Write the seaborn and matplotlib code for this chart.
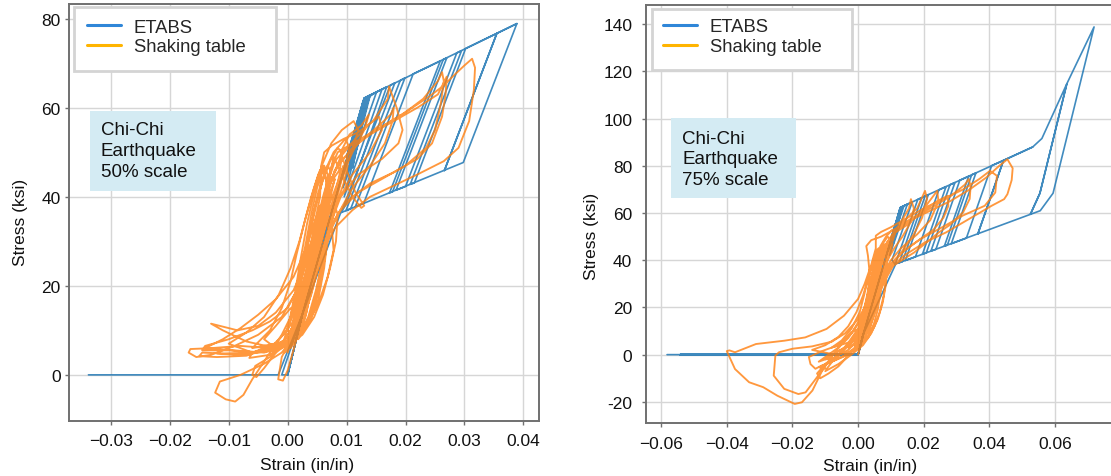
import matplotlib
matplotlib.use("Agg")
import matplotlib.pyplot as plt
import seaborn as sns
from matplotlib.lines import Line2D
from matplotlib.patches import Rectangle

# ---------------- data (strain in/in, stress ksi) ----------------
# Chi-Chi 50% scale, ETABS model (piecewise path)
etabs_50_strain = [-0.0338, -0.0016, 0.0025, 0.0000, 0.0025, -0.0010, 0.0000, 0.0025, 0.0130, 0.0100,
                   0.0131, 0.0103, 0.0133, 0.0106, 0.0136, 0.0110, 0.0138, 0.0140,
                   0.0092, 0.0128, 0.0151, 0.0094, 0.0135, 0.0160, 0.0096, 0.0140, 0.0168, 0.0100,
                   0.0091, 0.0174, 0.0182, 0.0099, 0.0107, 0.0191, 0.0199, 0.0115, 0.0129, 0.0213,
                   0.0259, 0.0173, 0.0178, 0.0264, 0.0270, 0.0184, 0.0200, 0.0287, 0.0295, 0.0208,
                   0.0215, 0.0302, 0.0355, 0.0266, 0.0355, 0.0389, 0.0298, 0.0090, 0.0025, 0.0000,
                   0.0025, 0.0130, 0.0389]
etabs_50_stress = [0, 0, 13.6, 0, 13.6, 0, 0, 13.6, 62.2, 49.0,
                   62.2, 48.0, 62.4, 47.0, 62.6, 46.5, 62.7, 62.8,
                   44.0, 61.5, 63.6, 42.0, 62.5, 64.1, 40.0, 62.8, 64.7, 38.5,
                   36.5, 65.0, 65.6, 36.9, 37.3, 66.1, 66.7, 37.8, 38.5, 67.6,
                   70.5, 40.9, 41.1, 70.8, 71.2, 41.5, 42.3, 72.3, 72.8, 42.8,
                   43.1, 73.3, 76.7, 45.9, 76.7, 78.9, 47.7, 36.4, 13.6, 0,
                   13.6, 62.2, 78.9]

# Chi-Chi 50% scale, shaking table record
table_50_strain = [
    0.000, 0.002, 0.004, 0.006, 0.0075, 0.008, 0.0065, 0.0045, 0.0025, 0.0005, -0.003, -0.0065, -0.006, -0.002, 0.001,
    0.003, 0.005, 0.007, 0.009, 0.0095, 0.0085, 0.006, 0.004, 0.002, -0.001, -0.006, -0.011, -0.0145, -0.015, -0.012,
    -0.007, -0.003, 0.000,
    0.002, 0.004, 0.006, 0.0075, 0.009, 0.0115, 0.014, 0.0155, 0.016, 0.014, 0.011, 0.0085, 0.0065, 0.005, 0.003,
    0.001, -0.003, -0.008, -0.013, -0.0165, -0.0168, -0.0155, -0.013, -0.009, -0.005, -0.001,
    0.002, 0.004, 0.0055, 0.0057, 0.0062, 0.0075, 0.0095, 0.012, 0.0145, 0.017, 0.0172, 0.0185, 0.0195, 0.0188,
    0.016, 0.012, 0.009, 0.007, 0.0055, 0.004, 0.002, -0.001, -0.004, -0.008, -0.0115, -0.0123, -0.0105, -0.0089,
    -0.0075, -0.006, -0.004, -0.001,
    0.002, 0.0035, 0.005, 0.0065, 0.008, 0.011, 0.015, 0.020, 0.024, 0.0265, 0.028, 0.030, 0.0313, 0.0318, 0.0316,
    0.0308, 0.029, 0.0265, 0.022, 0.018, 0.014, 0.011, 0.008, 0.006, 0.0045, 0.003, 0.0015, -0.002, -0.007, -0.011,
    -0.013, -0.0115, -0.0085, -0.005, -0.002, 0.001,
    0.003, 0.0045, 0.006, 0.0075, 0.0085, 0.011, 0.015, 0.019, 0.023, 0.0255, 0.0262, 0.0265, 0.026, 0.025, 0.0235,
    0.020, 0.016, 0.012, 0.009, 0.007, 0.0055, 0.004, 0.0025, 0.000, -0.003, -0.0055, -0.006, -0.0053, -0.004,
    -0.002, 0.001,
    0.003, 0.005, 0.0065, 0.008, 0.010, 0.014, 0.018, 0.022, 0.0255, 0.027, 0.0268, 0.0262, 0.0245, 0.022, 0.018,
    0.014, 0.010, 0.008, 0.006, 0.0045, 0.003, 0.001, -0.001, -0.0016, -0.0008, 0.000, 0.0015,
    0.003, 0.0045, 0.006, 0.007, 0.009, 0.012, 0.0155, 0.0175, 0.018, 0.0178, 0.0165, 0.014, 0.011, 0.0085, 0.0065,
    0.005, 0.0035, 0.002, -0.001, -0.005, -0.010, -0.0145, -0.014, -0.010, -0.006, -0.003, 0.000,
    0.002, 0.004, 0.006, 0.0072, 0.0078, 0.0085, 0.0095, 0.011, 0.0125, 0.013, 0.0115, 0.010, 0.009, 0.0105, 0.0125,
    0.0138, 0.013, 0.011, 0.009, 0.007, 0.0055, 0.004, 0.0025, 0.001, -0.002, -0.004, -0.002, 0.0005,
    0.002, 0.006, 0.0025, 0.0065, 0.003, 0.0055, 0.002, 0.007, 0.0035, 0.005, 0.0015, 0.006, 0.004, 0.007, 0.003,
    0.0065, 0.0045, 0.0072, 0.004, 0.006, 0.003, 0.005, 0.002, 0.004, 0.001, 0.0035,
    0.0, 0.001, 0.002, 0.003, 0.004, 0.005, 0.006, 0.0068, 0.0072, 0.0070, 0.0062, 0.0052, 0.0042, 0.0032, 0.002, 0.0005,
    0.0005, 0.0015, 0.0025, 0.0035, 0.0045, 0.0058, 0.0072, 0.0085, 0.0092, 0.0088, 0.0078, 0.0068, 0.0058, 0.0048,
    0.0035, 0.0018,
    0.001, 0.002, 0.003, 0.0042, 0.0052, 0.0064, 0.0078, 0.0098, 0.0105, 0.0096, 0.0082, 0.0072, 0.0064, 0.0055,
    0.0042, 0.0028, 0.001,
    0.0, 0.0012, 0.0022, 0.0033, 0.0045, 0.0058, 0.0074, 0.0092, 0.0112, 0.012, 0.0108, 0.0092, 0.0078, 0.0068,
    0.0058, 0.0046, 0.003, 0.001,
    -0.001, 0.0005, 0.0018, 0.003, 0.004, 0.005, 0.0062, 0.0068, 0.0065, 0.0058, 0.005, 0.004, 0.003, 0.0015, -0.0005,
    0.0015, 0.0025, 0.0038, 0.0048, 0.0058, 0.0072, 0.0088, 0.0102, 0.0095, 0.0082, 0.0070, 0.0058, 0.0048, 0.0035,
    0.0015,
    -0.006, -0.003, -0.001, 0.0005, 0.0015, 0.0028, 0.004, 0.0052, 0.006, 0.0065, 0.0068, 0.0068, 0.0062, 0.0052,
    0.0038, 0.0015, -0.002, -0.006,
    -0.010, -0.007, -0.004, -0.0015, 0.0005, 0.002, 0.0032, 0.0045, 0.0055, 0.0062, 0.0075, 0.0085, 0.0082, 0.0072,
    0.006, 0.0045, 0.0025, 0.0, -0.004, -0.009,
    -0.014, -0.011, -0.008, -0.005, -0.002, 0.001, 0.003, 0.0045, 0.0055, 0.0065, 0.0075, 0.0078, 0.0068, 0.0052,
    0.0032, 0.001, -0.003, -0.008, -0.012]
table_50_stress = [
    5, 14, 26, 35, 42, 44, 36, 27, 16, 8, 4.5, 3.8, 5, 7, 12,
    20, 30, 38, 45, 47, 42, 33, 24, 13, 7, 5, 4.8, 5.0, 4.2, 4.0,
    4.3, 6, 10,
    18, 27, 36, 44, 49, 53, 56.5, 58, 55, 50, 45, 39, 31, 24, 15,
    9, 6, 6.5, 6, 5.8, 5.0, 4.0, 4.5, 6.5, 9, 13,
    20, 30, 40, 47, 50, 51.5, 53, 54.5, 57, 62, 64.8, 60, 55, 52,
    48.5, 45, 40, 33, 26, 18, 10, 5, 2.5, 0, -1.5, -4, -5.5, -6,
    -4.5, -1, 3, 9,
    17, 24, 32, 40, 46, 51, 55, 59, 62.5, 65, 67, 69.5, 71, 69, 64,
    57, 51, 48, 45, 42.5, 40, 37, 33, 28, 21, 14, 9, 6, 7.5, 10,
    11.5, 11, 10, 11, 14, 19,
    25, 32, 40, 47, 50, 52, 55, 58, 62, 66, 68, 66, 61, 55, 51,
    47, 44, 41, 37, 32, 26, 19, 12, 7, 4, 2, 0, -0.5, 1.5,
    5, 11,
    22, 33, 42, 48, 51, 54, 57, 60, 63, 67, 63, 58, 52, 48.5, 45.5,
    43, 39, 35, 29, 22, 15, 9, 4, -1, -1.3, 1, 8,
    19, 28, 37, 43, 48, 52, 56, 58.5, 60, 57, 52, 47, 42, 36, 30,
    23, 16, 10, 6, 5, 5.5, 5.5, 6.5, 8, 10, 12, 15,
    20, 29, 38, 45, 49, 47, 44, 40, 37.5, 38, 41, 46, 50, 54, 56,
    58.5, 55, 50, 44, 36, 29, 21, 14, 8, 6, 8, 11, 15,
    12, 38, 15, 40, 17, 35, 11, 42, 19, 30, 10, 36, 20, 39, 14,
    34, 24, 38, 22, 31, 18, 27, 16, 26, 9, 22,
    6, 12, 19, 26, 33, 39, 44, 47, 46, 41, 35, 28, 21, 14, 9, 6,
    9, 16, 23, 30, 37, 43, 48, 51, 50, 45, 39, 32, 25, 18,
    12, 8,
    14, 21, 28, 35, 41, 46, 50, 53, 51, 46, 40, 34, 27, 20,
    14, 10, 8,
    10, 18, 26, 34, 41, 47, 52, 55, 57, 55, 50, 44, 37, 30,
    23, 16, 11, 8,
    6, 13, 21, 29, 36, 42, 47, 45, 39, 32, 26, 19, 13, 8, 5,
    14, 20, 27, 33, 38, 43, 46, 47, 43, 38, 32, 25, 19, 13,
    8,
    6, 10, 15, 21, 27, 34, 40, 45, 47, 44, 38, 31, 24, 17,
    12, 8, 5.5, 5,
    7, 9.5, 13, 18, 24, 30, 36, 42, 46, 45, 40, 36, 30, 24,
    18, 13, 9, 6.5, 5, 5.5,
    6, 8, 10.5, 13.5, 17, 22, 28, 34, 38, 37, 33, 28, 22, 16,
    11, 7.5, 5.5, 4.5, 4.8]

# Chi-Chi 75% scale, ETABS model
etabs_75_strain = [-0.0582, 0.0000, 0.0016, 0.0000, -0.0542, 0.0000, 0.0016, 0.0000, -0.0542, 0.0000,
                   0.0016, 0.0129, 0.0100, 0.0130, 0.0103, 0.0132, 0.0107, 0.0135,
                   0.0140, 0.0092, 0.0128, 0.0150, 0.0096, 0.0135, 0.0165, 0.0103, 0.0113, 0.0182,
                   0.0194, 0.0125, 0.0135, 0.0204, 0.0214, 0.0144, 0.0175, 0.0246, 0.0268, 0.0196,
                   0.0208, 0.0280, 0.0295, 0.0222, 0.0237, 0.0310, 0.0337, 0.0263, 0.0272, 0.0346,
                   0.0359, 0.0284, 0.0330, 0.0407, 0.0443, 0.0365, 0.0443, 0.0532, 0.0560, 0.0636,
                   0.0554, 0.0525, 0.0554, 0.0636, 0.0719, 0.0594, 0.0555, 0.0164, 0.0115, 0.0016,
                   0.0000, 0.0016, 0.0129, 0.0532]
etabs_75_stress = [0, 0, 8.7, 0, 0, 0, 8.7, 0, 0, 0,
                   8.7, 62.4, 49.0, 62.4, 48.0, 62.5, 47.0, 62.7,
                   63.1, 44.0, 62.2, 63.7, 42.0, 62.8, 64.7, 40.0, 38.3, 65.8,
                   66.5, 38.9, 39.4, 67.2, 67.8, 39.9, 41.5, 69.8, 71.2, 42.5,
                   43.2, 72.0, 72.9, 43.9, 44.6, 73.9, 75.6, 46.0, 46.4, 76.2,
                   77.0, 47.0, 49.4, 80.1, 82.3, 51.2, 82.3, 88.0, 91.6, 114.8,
                   68.4, 59.5, 68.4, 114.8, 138.9, 68.4, 61.0, 40.9, 38.5, 8.7,
                   0, 8.7, 62.4, 88.0]

# Chi-Chi 75% scale, shaking table record
table_75_strain = [
    0.000, 0.002, 0.004, 0.006, 0.0075, 0.008, 0.0065, 0.0045, 0.0025, 0.000, -0.003, -0.007, -0.010, -0.0118,
    -0.0096, -0.008, -0.005, -0.002, 0.001,
    0.003, 0.005, 0.007, 0.009, 0.0118, 0.015, 0.018, 0.0204, 0.021, 0.0195, 0.017, 0.014, 0.011, 0.008, 0.006,
    0.004, 0.002, -0.001, -0.005, -0.0096, -0.0129, -0.016, -0.0182, -0.0225, -0.0257, -0.0252, -0.0241, -0.020,
    -0.014, -0.008, -0.004, 0.000,
    0.002, 0.004, 0.0054, 0.0075, 0.0096, 0.0118, 0.016, 0.022, 0.028, 0.034, 0.039, 0.043, 0.0455, 0.0471, 0.0468,
    0.0455, 0.0445, 0.0407, 0.0354, 0.0268, 0.0204, 0.0139, 0.0086, 0.006, 0.004, 0.002, -0.0021, -0.0054, -0.0086,
    -0.0112, -0.0139, -0.0171, -0.0193, -0.0246, -0.0289, -0.0332, -0.0375, -0.0400, -0.0392, -0.0375, -0.0311,
    -0.0225, -0.0161, -0.0096, -0.0043, 0.000,
    0.002, 0.004, 0.0054, 0.0054, 0.007, 0.010, 0.015, 0.020, 0.026, 0.032, 0.037, 0.0402, 0.0423, 0.0418, 0.0386,
    0.032, 0.025, 0.019, 0.014, 0.010, 0.0075, 0.0055, 0.0035, 0.001, -0.003, -0.008, -0.0112, -0.013, -0.0145,
    -0.015, -0.011, -0.006, -0.002, 0.001,
    0.003, 0.0035, 0.003, 0.0025, 0.004, 0.007, 0.011, 0.016, 0.022, 0.028, 0.0325, 0.0337, 0.0343, 0.034, 0.032,
    0.028, 0.0246, 0.0171, 0.0107, 0.008, 0.006, 0.004, 0.002, -0.001, -0.004, -0.006, -0.009, -0.0115, -0.0125,
    -0.010, -0.006, -0.003, 0.000,
    0.003, 0.005, 0.007, 0.009, 0.012, 0.016, 0.020, 0.024, 0.0273, 0.0275, 0.026, 0.023, 0.018, 0.013, 0.009,
    0.007, 0.005, 0.003, 0.000, -0.004, -0.008, -0.010, -0.007, -0.003, 0.000,
    0.002, 0.004, 0.006, 0.008, 0.011, 0.015, 0.019, 0.0241, 0.0245, 0.022, 0.018, 0.013, 0.010, 0.0075, 0.0055,
    0.004, 0.0025, 0.0005, -0.003, -0.001, 0.002,
    0.004, 0.006, 0.008, 0.010, 0.013, 0.0155, 0.0161, 0.017, 0.016, 0.0135, 0.011, 0.008, 0.006, 0.004, 0.002,
    0.000,
    0.002, 0.006, 0.0025, 0.0065, 0.003, 0.0055, 0.002, 0.007, 0.0035, 0.005, 0.0015, 0.006, 0.004, 0.0075, 0.003,
    0.0065, 0.0045, 0.0078, 0.004, 0.006, 0.003, 0.005, 0.001, 0.004, 0.000, 0.0035, -0.001,
    0.0, 0.001, 0.002, 0.003, 0.004, 0.005, 0.006, 0.007, 0.0075, 0.007, 0.0062, 0.0052, 0.0042, 0.003, 0.0015, 0.0,
    0.0005, 0.0015, 0.0025, 0.0035, 0.0047, 0.006, 0.0075, 0.009, 0.0098, 0.009, 0.008, 0.007, 0.006, 0.0048,
    0.0035, 0.0015,
    0.001, 0.002, 0.003, 0.0043, 0.0055, 0.0068, 0.0085, 0.0105, 0.0112, 0.010, 0.0085, 0.0074, 0.0064, 0.0054,
    0.004, 0.0025, 0.0005,
    -0.001, 0.0005, 0.0018, 0.003, 0.0042, 0.0052, 0.0064, 0.0072, 0.0068, 0.006, 0.0052, 0.0042, 0.003, 0.0012,
    -0.0005,
    0.0015, 0.0028, 0.004, 0.005, 0.006, 0.0075, 0.009, 0.0105, 0.0098, 0.0085, 0.0072, 0.006, 0.005, 0.0036, 0.0015,
    -0.008, -0.005, -0.002, 0.0005, 0.0018, 0.003, 0.0042, 0.0055, 0.0062, 0.0068, 0.0072, 0.0068, 0.006, 0.0048,
    0.003, 0.0005, -0.003, -0.007,
    -0.014, -0.010, -0.006, -0.003, -0.0005, 0.0015, 0.003, 0.0045, 0.0058, 0.007, 0.008, 0.0085, 0.0078, 0.0066,
    0.005, 0.003, 0.0, -0.005, -0.010,
    -0.012, -0.009, -0.006, -0.003, 0.0, 0.002, 0.0035, 0.005, 0.0062, 0.0075, 0.0082, 0.0088, 0.0085, 0.0075,
    0.006, 0.004, 0.0015, -0.002, -0.006, -0.010]
table_75_stress = [
    0, 10, 20, 32, 40, 43, 35, 24, 14, 6, 2, -1, -4, -5.4,
    -6.1, -3.2, 1, 5, 10,
    18, 28, 38, 46, 53, 58, 62, 69.4, 66, 58, 51, 45, 39, 32, 24,
    16, 8, 2, -1, -4, -10.3, -16, -16.7, -14.5, -8.9, -0.4, 1.0, 2.5,
    3.5, 5.5, 9, 15,
    20, 28, 35, 43.3, 49, 53.2, 57, 61, 65, 70, 75, 80, 82.8, 79, 74,
    68, 65.9, 63.1, 58.8, 51.8, 47.6, 41.9, 34.9, 28, 20, 12, 9.5, 3.8, -1.8,
    -7.5, -15.2, -20.2, -20.9, -17.4, -13.8, -11.7, -6.1, 1.5, 1.8, 1.0, 4.5,
    5.9, 7.3, 10.9, 16.5, 23.6,
    30, 38, 45, 50.4, 52, 54, 58, 62, 66, 70, 74.5, 77.9, 75.8, 68.7, 63.1,
    59, 53.5, 49, 44, 38, 31, 23, 14, 5, 0, -3, -4.7, -6, -4,
    -1, 1.5, 4, 9, 16,
    25, 35, 42, 46, 48.5, 50, 53, 57.5, 62, 67, 72, 74.4, 71.5, 66, 60.3,
    55, 51.8, 43.3, 37.7, 31, 24, 16, 9, 3, -2, -5, -8, -10, -8,
    -4, 0, 5, 11,
    22, 33, 42, 48, 53, 57, 61, 65, 67.3, 63, 58, 53, 48, 43, 37,
    30, 22, 14, 7, 3, 0, -2, 0.5, 4, 9,
    18, 29, 39, 46, 51.5, 55, 60, 69.4, 65, 57, 51, 45, 40, 34, 27,
    19, 12, 6, 3, 8, 14,
    25, 36, 45, 50, 56, 62, 65.9, 62, 56, 50, 45, 38, 30, 21, 12,
    6,
    12, 38, 15, 42, 18, 33, 10, 44, 20, 30, 9, 36, 22, 45, 15,
    36, 26, 47, 24, 32, 20, 28, 10, 26, 5, 22, 4,
    5, 11, 17, 23, 29, 35, 40, 44, 43, 38, 32, 25, 18, 12, 7, 4,
    8, 15, 22, 29, 36, 42, 47, 50, 49, 44, 38, 31, 24, 17,
    11, 6,
    13, 20, 27, 35, 41, 46, 50, 53, 51, 46, 40, 33, 26, 19,
    13, 9, 6,
    3, 10, 18, 26, 33, 39, 45, 44, 38, 31, 24, 17, 11, 6,
    3,
    12, 20, 28, 34, 39, 44, 46, 47, 43, 38, 31, 24, 18, 12, 7,
    3, 6, 11, 18, 25, 32, 38, 44, 45, 40, 33, 26, 19, 13,
    8, 4, 1, 0,
    2, 4, 7.5, 12, 18, 25, 32, 39, 44, 43, 38, 32, 25, 18,
    12, 7, 3, -1, -2,
    -3, 0, 3, 7, 13, 20, 27, 34, 40, 45, 44, 38, 30, 22,
    15, 9, 4, 0, -4, -7]

assert len(etabs_50_strain) == len(etabs_50_stress)
assert len(table_50_strain) == len(table_50_stress)
assert len(etabs_75_strain) == len(etabs_75_stress)
assert len(table_75_strain) == len(table_75_stress)

# ticks
x_ticks_50 = [-0.03, -0.02, -0.01, 0.00, 0.01, 0.02, 0.03, 0.04]
x_labels_50 = ["\u22120.03", "\u22120.02", "\u22120.01", "0.00", "0.01", "0.02", "0.03", "0.04"]
y_ticks_50 = [0, 20, 40, 60, 80]
x_ticks_75 = [-0.06, -0.04, -0.02, 0.00, 0.02, 0.04, 0.06]
x_labels_75 = ["\u22120.06", "\u22120.04", "\u22120.02", "0.00", "0.02", "0.04", "0.06"]
y_ticks_75 = [-20, 0, 20, 40, 60, 80, 100, 120, 140]

legend_labels = ["ETABS", "Shaking table"]
box_text_50 = "Chi-Chi\nEarthquake\n50% scale"
box_text_75 = "Chi-Chi\nEarthquake\n75% scale"

BLUE = "#1f77b4"
ORANGE = "#ff7f0e"
LEG_BLUE = "#2f86d8"
LEG_ORANGE = "#ffb400"
BOX_BLUE = "#d4ebf3"

sns.set_style("whitegrid")
plt.rcParams['font.family'] = ['Liberation Sans', 'DejaVu Sans']

fig = plt.figure(figsize=(11.11, 4.77), dpi=100)
ax1 = fig.add_axes([0.0621, 0.1159, 0.4233, 0.8736])
ax2 = fig.add_axes([0.5815, 0.1105, 0.4266, 0.8770])


def draw_panel(ax, e_x, e_y, t_x, t_y, xlim, ylim, xt, xtl, yt, ytick_pad):
    sns.lineplot(x=e_x, y=e_y, sort=False, estimator=None, ax=ax,
                 color=BLUE, lw=1.2, alpha=0.85)
    sns.lineplot(x=t_x, y=t_y, sort=False, estimator=None, ax=ax,
                 color=ORANGE, lw=1.35, alpha=0.8)
    ax.set_xlim(*xlim)
    ax.set_ylim(*ylim)
    ax.set_xticks(xt, xtl)
    ax.set_yticks(yt, [str(v) for v in yt])
    ax.grid(True, color="#d6d6d6", lw=1.0)
    for sp in ax.spines.values():
        sp.set_color("#707070")
        sp.set_linewidth(1.4)
    ax.tick_params(axis="both", bottom=True, left=True, length=3, width=1,
                   color="#707070", labelsize=12.5, labelcolor="#111111")
    ax.tick_params(axis="x", pad=6)
    ax.tick_params(axis="y", pad=ytick_pad)
    ax.set_xlabel("Strain (in/in)", fontsize=12.5, color="#111111")
    ax.set_ylabel("Stress (ksi)", fontsize=12.5, color="#111111")


draw_panel(ax1, etabs_50_strain, etabs_50_stress, table_50_strain, table_50_stress,
           (-0.0371, 0.0427), (-10.3, 83.3), x_ticks_50, x_labels_50, y_ticks_50, 3)
draw_panel(ax2, etabs_75_strain, etabs_75_stress, table_75_strain, table_75_stress,
           (-0.0646, 0.0798), (-29.1, 148.2), x_ticks_75, x_labels_75, y_ticks_75, 7)

ax1.xaxis.set_label_coords(0.506, -0.087)
ax1.yaxis.set_label_coords(-0.088, 0.479)
ax2.xaxis.set_label_coords(0.473, -0.084)
ax2.yaxis.set_label_coords(-0.100, 0.448)

handles = [Line2D([], [], color=LEG_BLUE, lw=2.2), Line2D([], [], color=LEG_ORANGE, lw=2.2)]

# legend frame + legend, annotation box
for ax, frame, anchor, box, txt_pos, txt in [
        (ax1, (0.0106, 0.840, 0.4296, 0.152), (0.039, 0.965), (0.0447, 0.552, 0.268, 0.192), (0.068, 0.648), box_text_50),
        (ax2, (0.012, 0.845, 0.4226, 0.145), (0.0365, 0.968), (0.0517, 0.538, 0.264, 0.191), (0.076, 0.632), box_text_75)]:
    ax.add_patch(Rectangle(frame[:2], frame[2], frame[3], transform=ax.transAxes,
                           facecolor="white", edgecolor="#d4d4d4", lw=2, zorder=5))
    leg = ax.legend(handles, legend_labels, loc="upper left", bbox_to_anchor=anchor,
                    frameon=False, borderpad=0, borderaxespad=0, handlelength=1.82,
                    handletextpad=0.69, labelspacing=0.15, fontsize=13.3)
    leg.set_zorder(6)
    ax.add_patch(Rectangle(box[:2], box[2], box[3], transform=ax.transAxes,
                           facecolor=BOX_BLUE, edgecolor="none", zorder=4))
    ax.text(txt_pos[0], txt_pos[1], txt, transform=ax.transAxes, ha="left", va="center",
            fontsize=13.5, linespacing=1.3, color="#111111", zorder=5)

fig.savefig("out.png", dpi=100)
